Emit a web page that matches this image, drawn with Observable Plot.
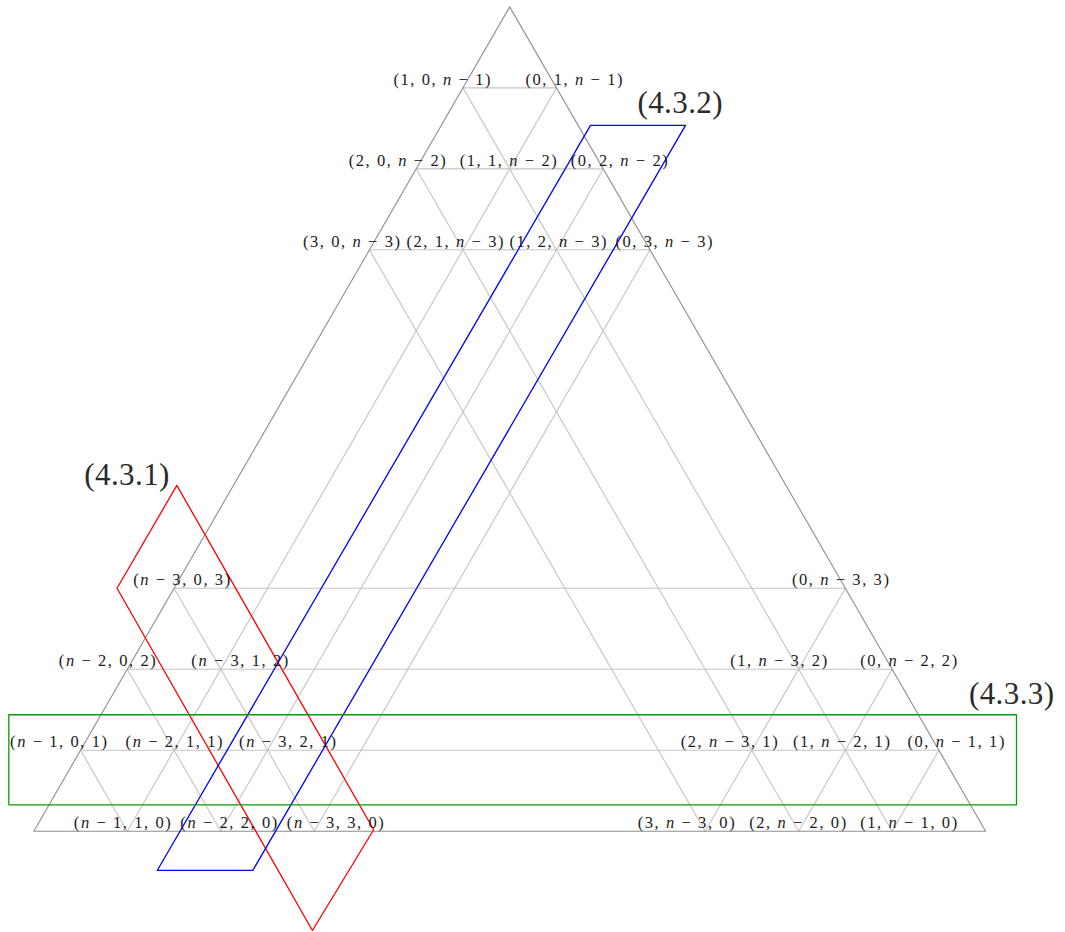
<!DOCTYPE html>
<html><head><meta charset="utf-8">
<script src="https://cdn.jsdelivr.net/npm/d3@7"></script>
<script src="https://cdn.jsdelivr.net/npm/@observablehq/plot@0.6"></script>
<style>html,body{margin:0;padding:0;background:#fff;overflow:hidden}#chart svg{display:block}</style>
</head><body><div id="chart"></div>
<script>
// ---- data ----
const N = 10.18; // drawn side of the triangle, in lattice steps (middle rows elided)
const gridLevels = ["1", "2", "3", "n-3", "n-2", "n-1"];
const nodeLabels = [
  ["1","0","n-1"], ["0","1","n-1"],
  ["2","0","n-2"], ["1","1","n-2"], ["0","2","n-2"],
  ["3","0","n-3"], ["2","1","n-3"], ["1","2","n-3"], ["0","3","n-3"],
  ["n-3","0","3"],
  ["n-2","0","2"], ["n-3","1","2"],
  ["n-1","0","1"], ["n-2","1","1"], ["n-3","2","1"],
  ["n-1","1","0"], ["n-2","2","0"], ["n-3","3","0"],
  ["0","n-3","3"],
  ["1","n-3","2"], ["0","n-2","2"],
  ["2","n-3","1"], ["1","n-2","1"], ["0","n-1","1"],
  ["3","n-3","0"], ["2","n-2","0"], ["1","n-1","0"]
];
// shapes: vertices as [lattice x, row]
const shapeNames = ["(4.3.1)", "(4.3.2)", "(4.3.3)"];
const shapeColors = ["#ff0000", "#0000ff", "#0a9a0a"];
const shapeRed = [[1.53, 4.27], [0.89, 3.0], [2.98, -1.226], [3.635, 0.018]];
const shapeBlue = [[5.954, 8.716], [6.97, 8.716], [2.342, -0.485], [1.32, -0.485]];
const shapeGreen = [[-0.267, 1.438], [10.51, 1.438], [10.51, 0.326], [-0.267, 0.326]];
const shapes = [shapeRed, shapeBlue, shapeGreen];

// ---- layout (pixels) ----
const W = 1065, H = 932, STEP = 93.5, ROWH = STEP * Math.sqrt(3) / 2, X0 = 33.3, Y0 = 830.7;
const labelNudge = [-21, 17.5, -19, -1.5, 16, -18, -8, 1.5, 14,
  7.6, -20, 19, -22, 0, 20, -5, 8, 21,
  -5, -20, 16.5, -22.7, -4, 17, -19, -1, 16.5];
const tagVertex = [0, 1, 1];
const tagNudge = [[-50, -10], [-5.5, -22], [-5, -21]];

const val = s => s.startsWith("n") ? N - (+s.slice(2) || 0) : +s;
const px = d => d / STEP; // pixel offset -> lattice x
const pr = d => d / ROWH; // pixel offset -> rows

// grid lines
const links = [];
for (const g of gridLevels) {
  const k = val(g);
  links.push({x1: k / 2, y1: k, x2: N - k / 2, y2: k});            // c = k
  links.push({x1: k, y1: 0, x2: k + (N - k) / 2, y2: N - k});       // b = k
  links.push({x1: (N - k) / 2, y1: N - k, x2: N - k, y2: 0});       // a = k
}
const outer = [[0, 0], [N, 0], [N / 2, N]].map(([x, y]) => ({x, y}));

const labels = nodeLabels.map((t, i) => {
  const b = val(t[1]), c = val(t[2]);
  return {
    x: b + c / 2 + px(labelNudge[i]),
    y: c,
    text: "(" + t.map(s => s.replace("-", " − ")).join(", ") + ")"
  };
});
const tagData = shapeNames.map((name, i) => {
  const v = shapes[i][tagVertex[i]];
  return {x: v[0] + px(tagNudge[i][0]), y: v[1] - pr(tagNudge[i][1]), text: name};
});

const marks = [
  Plot.link(links, {x1: "x1", y1: "y1", x2: "x2", y2: "y2", stroke: "#c4c4c4", strokeWidth: 1.1}),
  Plot.line(outer, {x: "x", y: "y", curve: "linear-closed", stroke: "#8f8f8f", strokeWidth: 1.1}),
  ...shapes.map((s, i) => Plot.line(s.map(([x, y]) => ({x, y})), {x: "x", y: "y", curve: "linear-closed", stroke: shapeColors[i], strokeWidth: 1.3})),
  Plot.text(labels, {x: "x", y: "y", text: "text", dy: -8.5, lineAnchor: "middle", fontSize: 16.5, fontFamily: "Liberation Serif", fill: "#1a1a1a"}),
  Plot.text(tagData, {x: "x", y: "y", text: "text", lineAnchor: "middle", fontSize: 31, fontFamily: "Liberation Serif", fill: "#2a2a2a"})
];

const plot = Plot.plot({
  width: W, height: H,
  marginTop: 0, marginRight: 0, marginBottom: 0, marginLeft: 0,
  x: {domain: [-X0 / STEP, (W - X0) / STEP], axis: null},
  y: {domain: [(Y0 - H) / ROWH, Y0 / ROWH], axis: null},
  style: {background: "#fff"},
  marks
});
document.getElementById("chart").appendChild(plot);

// italic n, and widths matching the reference typesetting
plot.querySelectorAll("text").forEach(t => {
  const s = t.textContent;
  if (s.includes(",")) {
    t.textContent = "";
    for (const part of s.split(/(n)/)) {
      if (!part) continue;
      const ts = document.createElementNS("http://www.w3.org/2000/svg", "tspan");
      ts.textContent = part;
      if (part === "n") ts.setAttribute("font-style", "italic");
      t.appendChild(ts);
    }
    t.setAttribute("textLength", 97);
    t.setAttribute("lengthAdjust", "spacing");
  } else if (s.startsWith("(4.")) {
    t.setAttribute("textLength", 85);
    t.setAttribute("lengthAdjust", "spacing");
  }
});
</script>
</body></html>
